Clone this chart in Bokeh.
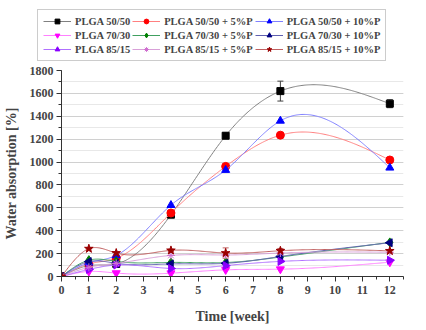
import numpy as np
from bokeh.plotting import figure
from bokeh.models import (Legend, LegendItem, Range1d, ColumnDataSource, Whisker,
                          TeeHead, SingleIntervalTicker)
from bokeh.embed import file_html
from bokeh.resources import INLINE

weeks = [0, 1, 2, 4, 6, 8, 12]
plga5050 = [0, 95, 110, 540, 1230, 1620, 1510]
plga5050_err = [0, 10, 10, 15, 25, 87, 35]
plga5050_5p = [0, 110, 160, 555, 962, 1235, 1018]
plga5050_10p = [0, 120, 184, 623, 930, 1360, 950]
plga7030 = [0, 44, 30, 29, 58, 64, 125]
plga7030_5p = [0, 143, 132, 123, 122, 170, 298]
plga7030_10p = [0, 130, 115, 110, 115, 175, 295]
plga8515 = [0, 62, 100, 70, 95, 132, 142]
plga8515_5p = [0, 80, 115, 184, 188, 205, 212]
plga8515_10p = [0, 243, 205, 228, 205, 225, 224]
plga8515_10p_err = [0, 10, 12, 10, 45, 20, 12]

labels = ["PLGA 50/50", "PLGA 50/50 + 5%P", "PLGA 50/50 + 10%P",
          "PLGA 70/30", "PLGA 70/30 + 5%P", "PLGA 70/30 + 10%P",
          "PLGA 85/15", "PLGA 85/15 + 5%P", "PLGA 85/15 + 10%P"]
series = [plga5050, plga5050_5p, plga5050_10p, plga7030, plga7030_5p, plga7030_10p,
          plga8515, plga8515_5p, plga8515_10p]
colors = ["#000000", "#ff0000", "#0000ff", "#ff00ff", "#008000", "#000080",
          "#8a00ff", "#d070d0", "#9a0000"]
line_colors = ["#808080", "#ff8080", "#8080ff", "#ff80ff", "#40a060", "#6060b0",
               "#b070ff", "#d8a0d8", "#c06060"]
markers = ["square", "circle", "triangle", "inverted_triangle", "diamond", "triangle",
           "triangle", "asterisk", "star"]
angles = [0, 0, 0, 0, 0, np.pi / 2, -np.pi / 2, 0, 0]
sizes = [7, 8, 8, 8, 9, 8, 8, 8, 9]


def natural_spline(x, y, n=300):
    x = np.asarray(x, float)
    y = np.asarray(y, float)
    h = np.diff(x)
    m = len(x)
    A = np.zeros((m, m))
    b = np.zeros(m)
    A[0, 0] = 1
    A[-1, -1] = 1
    for i in range(1, m - 1):
        A[i, i - 1] = h[i - 1]
        A[i, i] = 2 * (h[i - 1] + h[i])
        A[i, i + 1] = h[i]
        b[i] = 6 * ((y[i + 1] - y[i]) / h[i] - (y[i] - y[i - 1]) / h[i - 1])
    M = np.linalg.solve(A, b)
    xs = np.linspace(x[0], x[-1], n)
    idx = np.clip(np.searchsorted(x, xs) - 1, 0, m - 2)
    x0, x1 = x[idx], x[idx + 1]
    hh = x1 - x0
    t0 = x1 - xs
    t1 = xs - x0
    ys = (M[idx] * t0 ** 3 / (6 * hh) + M[idx + 1] * t1 ** 3 / (6 * hh)
          + (y[idx] / hh - M[idx] * hh / 6) * t0 + (y[idx + 1] / hh - M[idx + 1] * hh / 6) * t1)
    return xs, ys


font = "Liberation Serif"
LEG_H = 61

# ---- legend strip on top (its own root, so its frame spans the full width) ----
lf = figure(width=426, height=LEG_H, output_backend="svg", toolbar_location=None,
            x_range=Range1d(0, 12.5), y_range=Range1d(-20, -10),
            x_axis_type=None, y_axis_type=None,
            min_border_left=0, min_border_right=0, min_border_top=0, min_border_bottom=0)
lf.outline_line_color = None
lf.xgrid.grid_line_color = None
lf.ygrid.grid_line_color = None
lf.border_fill_color = "white"

leg_items = []
for i, (lab, ys) in enumerate(zip(labels, series)):
    l = lf.line(weeks, ys, line_color=line_colors[i], line_width=1)
    s = lf.scatter(weeks, ys, marker=markers[i], size=sizes[i], angle=angles[i],
                   fill_color=colors[i], line_color=colors[i])
    leg_items.append(LegendItem(label=lab, renderers=[l, s], index=0))

legend = Legend(items=leg_items, location=(37, 0), orientation="horizontal", ncols=3,
                label_text_font=font, label_text_font_style="bold", label_text_font_size="10.5px",
                glyph_width=28, glyph_height=12, label_standoff=4, spacing=2,
                padding=5, margin=0, border_line_color="#999999", background_fill_alpha=1,
                label_height=11)
lf.add_layout(legend, "center")

# ---- main chart ----
p = figure(width=426, height=330 - LEG_H, output_backend="svg", toolbar_location=None,
           x_range=Range1d(0, 12.5), y_range=Range1d(0, 1800),
           min_border_left=61, min_border_right=23, min_border_top=70 - LEG_H,
           min_border_bottom=54)
p.outline_line_color = None
p.background_fill_color = "white"
p.border_fill_color = "white"

for ax in (p.xaxis[0], p.yaxis[0]):
    ax.major_label_text_font = font
    ax.major_label_text_font_style = "bold"
    ax.major_label_text_font_size = "12px"
    ax.axis_label_text_font = font
    ax.axis_label_text_font_style = "bold"
    ax.axis_label_text_font_size = "14px"
    ax.axis_line_color = "#333333"
    ax.major_tick_line_color = "#333333"
    ax.minor_tick_line_color = "#333333"
    ax.major_tick_in = 0
    ax.major_tick_out = 5
    ax.minor_tick_in = 0
    ax.minor_tick_out = 3

p.xaxis.ticker = SingleIntervalTicker(interval=1, num_minor_ticks=2)
p.yaxis.ticker = SingleIntervalTicker(interval=200, num_minor_ticks=2)
p.xaxis.axis_label = "Time [week]"
p.yaxis.axis_label = "Water absorption [%]"
p.xaxis.axis_label_standoff = 12
p.yaxis.axis_label_standoff = 8
p.xaxis.major_label_standoff = 4
p.yaxis.major_label_standoff = 3

p.xgrid.grid_line_color = None
p.ygrid.grid_line_color = "#d0d0d0"
p.ygrid.grid_line_width = 1
p.ygrid.minor_grid_line_color = "#e8e8e8"

for i, (lab, ys) in enumerate(zip(labels, series)):
    xs_s, ys_s = natural_spline(weeks, ys)
    p.line(xs_s, ys_s, line_color=line_colors[i], line_width=1)
    p.scatter(weeks, ys, marker=markers[i], size=sizes[i], angle=angles[i],
              fill_color=colors[i], line_color=colors[i])

for ys, err, c in [(plga5050, plga5050_err, "#404040"), (plga8515_10p, plga8515_10p_err, "#c06060")]:
    up = [v + e for v, e in zip(ys, err)]
    lo = [v - e for v, e in zip(ys, err)]
    src = ColumnDataSource(dict(base=weeks, upper=up, lower=lo))
    w = Whisker(source=src, base="base", upper="upper", lower="lower",
                line_color=c, line_width=1,
                upper_head=TeeHead(size=6, line_color=c), lower_head=TeeHead(size=6, line_color=c))
    p.add_layout(w)

open("out.html", "w").write(file_html([lf, p], INLINE))
